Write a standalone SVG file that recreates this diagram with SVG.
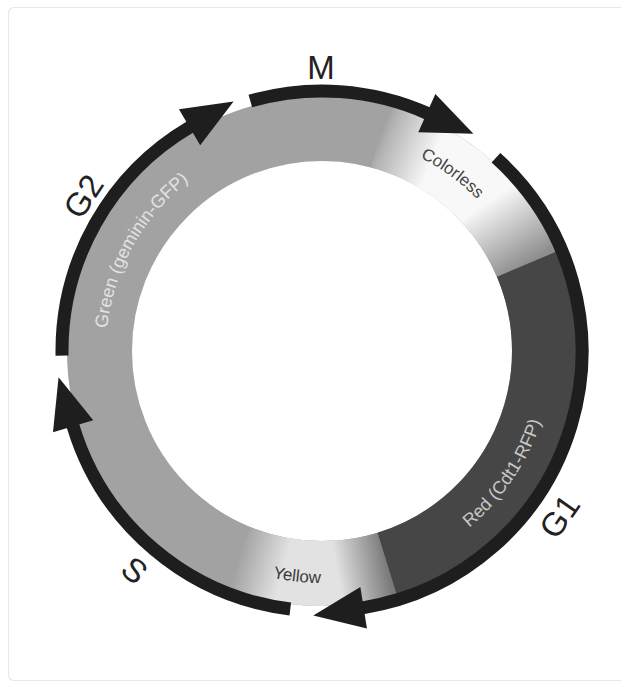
<svg xmlns="http://www.w3.org/2000/svg" width="621" height="682" viewBox="0 0 621 682">
  <style>
    .band { fill: none; stroke-width: 65; }
    .arc { fill: none; stroke: #1e1e1e; stroke-width: 13; marker-end: url(#head); }
    .big { font-family: "Liberation Sans", Arial, sans-serif; font-size: 33px; fill: #222; text-anchor: middle; }
    .small { font-family: "Liberation Sans", Arial, sans-serif; font-size: 18px; text-anchor: middle; }
  </style>
  <defs>
    <marker id="head" markerUnits="userSpaceOnUse" orient="auto" refX="0" refY="0" markerWidth="52" markerHeight="44" overflow="visible">
      <path d="M-1,-21 L50,0 L-1,21 Z" fill="#1e1e1e"/>
    </marker>
    <linearGradient id="gT1" gradientUnits="userSpaceOnUse" x1="379.59" y1="136.08" x2="433.25" y2="158.31">
      <stop offset="0" stop-color="#a2a2a2"/>
      <stop offset="0.15" stop-color="#b4b4b4"/>
      <stop offset="1" stop-color="#f8f8f8"/>
    </linearGradient>
    <linearGradient id="gT2" gradientUnits="userSpaceOnUse" x1="487.35" y1="202.12" x2="526.81" y2="264.06">
      <stop offset="0" stop-color="#f8f8f8"/>
      <stop offset="1" stop-color="#8e8e8e"/>
    </linearGradient>
    <linearGradient id="gT3" gradientUnits="userSpaceOnUse" x1="387.05" y1="563.78" x2="337.52" y2="572.96">
      <stop offset="0" stop-color="#7a7a7a"/>
      <stop offset="1" stop-color="#e2e2e2"/>
    </linearGradient>
    <linearGradient id="gT4" gradientUnits="userSpaceOnUse" x1="283.36" y1="570.12" x2="238.65" y2="557.30">
      <stop offset="0" stop-color="#e2e2e2"/>
      <stop offset="1" stop-color="#a2a2a2"/>
    </linearGradient>
    <path id="pGreen" d="M120.35,428.41 A216,216 0 0 1 280.78,138.97"/>
    <path id="pRed" d="M346.04,579.74 A230,230 0 0 0 543.09,287.60"/>
    <path id="pColorless" d="M270.61,140.17 A217,217 0 0 1 538.55,337.00"/>
    <path id="pYellow" d="M128.99,479.72 A232,232 0 0 0 482.28,518.73"/>
  </defs>

  <rect x="8.5" y="7.5" width="620" height="673" rx="6" fill="#ffffff" stroke="#e8e8e8" stroke-width="1.2"/>

  <g id="ring">
    <circle class="band" cx="322" cy="351" r="222.5" stroke="#a2a2a2"/>
    <path class="band" stroke="#e2e2e2" d="M341.39,572.65 A222.5,222.5 0 0 1 279.55,569.41"/>
    <path class="band" stroke="url(#gT3)" d="M387.05,563.78 A222.5,222.5 0 0 1 335.58,573.08"/>
    <path class="band" stroke="url(#gT4)" d="M285.28,570.45 A222.5,222.5 0 0 1 238.65,557.30"/>
    <path class="band" stroke="#f8f8f8" d="M429.87,156.40 A222.5,222.5 0 0 1 489.92,205.03"/>
    <path class="band" stroke="url(#gT1)" d="M379.59,136.08 A222.5,222.5 0 0 1 434.93,159.29"/>
    <path class="band" stroke="url(#gT2)" d="M486.05,200.68 A222.5,222.5 0 0 1 526.81,264.06"/>
    <path class="band" stroke="#464646" d="M526.81,264.06 A222.5,222.5 0 0 1 387.05,563.78"/>
  </g>

  <g id="ring-labels">
    <text id="label-green" class="small" fill="#e2e2e2"><textPath href="#pGreen" startOffset="50%">Green (geminin-GFP)</textPath></text>
    <text id="label-red" class="small" fill="#c8c8c8"><textPath href="#pRed" startOffset="50%">Red (Cdt1-RFP)</textPath></text>
    <text id="label-colorless" class="small" fill="#444444" style="font-size:17px"><textPath href="#pColorless" startOffset="50%">Colorless</textPath></text>
    <text id="label-yellow" class="small" fill="#3a3a3a" style="font-size:17px"><textPath href="#pYellow" startOffset="50%">Yellow</textPath></text>
  </g>

  <g id="connectors">
    <path id="arc-M" class="arc" d="M250.33,101.07 A260,260 0 0 1 427.75,113.48"/>
    <path id="arc-G1" class="arc" d="M495.97,157.78 A260,260 0 0 1 362.67,607.80"/>
    <path id="arc-S" class="arc" d="M290.31,609.06 A260,260 0 0 1 72.84,425.28"/>
    <path id="arc-G2" class="arc" d="M62.04,355.54 A260,260 0 0 1 190.43,126.75"/>
  </g>

  <g id="phase-M"><text class="big" x="321" y="79">M</text></g>
  <g id="phase-G1"><text class="big" transform="translate(559,516) rotate(-55)" x="0" y="12">G1</text></g>
  <g id="phase-S"><text class="big" transform="translate(135,570) rotate(40)" x="0" y="12">S</text></g>
  <g id="phase-G2"><text class="big" transform="translate(83,196) rotate(-57)" x="0" y="12">G2</text></g>
</svg>
